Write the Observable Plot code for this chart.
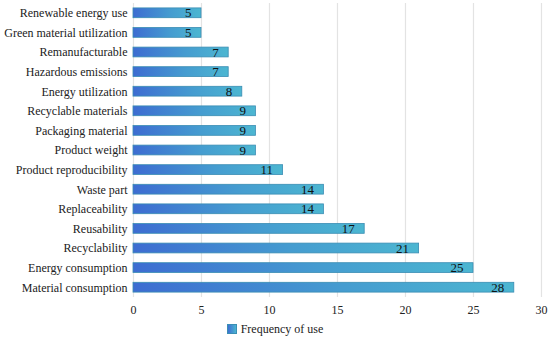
<!DOCTYPE html>
<html>
<head>
<meta charset="utf-8">
<script src="https://cdn.jsdelivr.net/npm/d3@7"></script>
<script src="https://cdn.jsdelivr.net/npm/@observablehq/plot@0.6"></script>
<style>
  html, body { margin: 0; padding: 0; background: #fff; }
  #chart { width: 550px; height: 339px; font-family: 'Liberation Serif'; }
  .legend { display: flex; justify-content: center; align-items: center; height: 20px; font-size: 12px; color: #222; font-family: 'Liberation Serif'; }
  .legend .sw { width: 8px; height: 8px; margin-right: 4px; background: linear-gradient(to right, #3e6fd2, #4ab4d0); border: 0.5px solid #3a8fb5; }
</style>
</head>
<body>
<div id="chart"></div>
<script>
const categories = [
  "Renewable energy use",
  "Green material utilization",
  "Remanufacturable",
  "Hazardous emissions",
  "Energy utilization",
  "Recyclable materials",
  "Packaging material",
  "Product weight",
  "Product reproducibility",
  "Waste part",
  "Replaceability",
  "Reusability",
  "Recyclability",
  "Energy consumption",
  "Material consumption"
];
const values = [5, 5, 7, 7, 8, 9, 9, 9, 11, 14, 14, 17, 21, 25, 28];
const xTicks = [0, 5, 10, 15, 20, 25, 30];
const seriesName = "Frequency of use";

const data = categories.map((c, i) => ({category: c, value: values[i]}));

const plot = Plot.plot({
  width: 550,
  height: 319,
  marginLeft: 133,
  marginRight: 9,
  marginTop: 3,
  marginBottom: 22,
  style: "font-family: 'Liberation Serif'; font-size: 12px; color: #222; background: #fff;",
  x: {domain: [0, 30], ticks: xTicks, label: null, tickSize: 0, tickPadding: 8},
  y: {domain: categories, label: null, tickSize: 0, tickPadding: 6, paddingInner: 0.5, paddingOuter: 0.25, round: false},
  marks: [
    Plot.ruleX(xTicks, {stroke: "#e3e3e3", strokeWidth: 1.2}),
    () => {
      const ns = "http://www.w3.org/2000/svg";
      const g = document.createElementNS(ns, "defs");
      g.innerHTML = `<linearGradient id="barGrad" x1="0" x2="1" y1="0" y2="0">
        <stop offset="0" stop-color="#3d6cd1"/>
        <stop offset="0.55" stop-color="#459cd0"/>
        <stop offset="1" stop-color="#4cb6d1"/>
      </linearGradient>`;
      return g;
    },
    Plot.barX(data, {x: "value", y: "category", fill: "url(#barGrad)", stroke: "#3a8db3", strokeWidth: 0.8}),
    Plot.text(data, {x: "value", y: "category", text: d => String(d.value), textAnchor: "end", dx: -10, fill: "#111", fontSize: 13})
  ]
});
plot.setAttribute("font-family", "Liberation Serif");
document.getElementById("chart").appendChild(plot);
plot.querySelectorAll("rect").forEach(r => { if (!r.getAttribute("fill") || r.getAttribute("fill") === "currentColor") r.setAttribute("fill", "url(#barGrad)"); });

const legend = document.createElement("div");
legend.className = "legend";
legend.innerHTML = `<span class="sw"></span><span>${seriesName}</span>`;
document.getElementById("chart").appendChild(legend);
</script>
</body>
</html>
